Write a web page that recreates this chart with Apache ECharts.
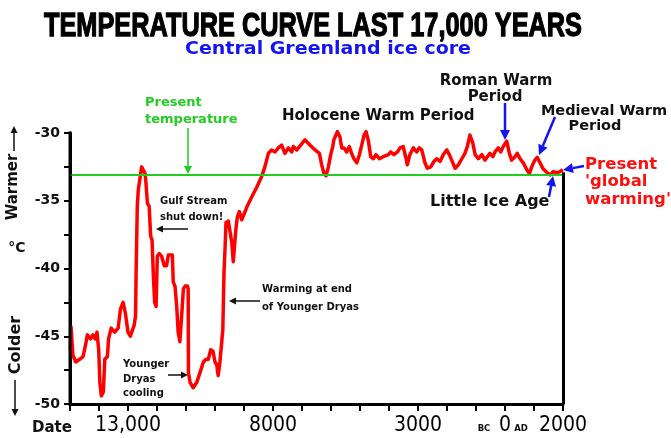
<!DOCTYPE html>
<html><head><meta charset="utf-8">
<script src="https://cdn.jsdelivr.net/npm/echarts@6/dist/echarts.min.js"></script>
<style>html,body{margin:0;padding:0;background:#fff}#c{width:671px;height:438px}</style>
</head><body><div id="c"></div>
<script>
// Year (BC negative, AD positive)
const years = [-14990,-14965,-14900,-14800,-14670,-14550,-14470,-14400,-14290,-14210,-14130,-14070,-14010,-13970,-13920,-13850,-13800,-13710,-13670,-13580,-13460,-13340,-13260,-13170,-13090,-13000,-12920,-12790,-12740,-12720,-12680,-12645,-12590,-12530,-12470,-12410,-12380,-12330,-12270,-12220,-12170,-12130,-12080,-12030,-11990,-11920,-11840,-11780,-11750,-11670,-11610,-11550,-11470,-11440,-11380,-11320,-11270,-11210,-11150,-11090,-11030,-10950,-10925,-10915,-10860,-10750,-10630,-10520,-10400,-10310,-10230,-10150,-10070,-10000,-9940,-9890,-9830,-9730,-9690,-9655,-9620,-9540,-9480,-9420,-9370,-9310,-9280,-9230,-9160,-9080,-9000,-8910,-8730,-8560,-8390,-8280,-8160,-8050,-7930,-7820,-7700,-7590,-7470,-7355,-7300,-7180,-7010,-6900,-6720,-6550,-6400,-6320,-6240,-6170,-6090,-6010,-5940,-5900,-5780,-5690,-5630,-5550,-5460,-5370,-5290,-5210,-5110,-5020,-4940,-4860,-4790,-4710,-4630,-4540,-4450,-4330,-4200,-4020,-3940,-3830,-3710,-3620,-3510,-3410,-3370,-3280,-3160,-3045,-2955,-2870,-2760,-2680,-2560,-2450,-2355,-2240,-2130,-2010,-1920,-1840,-1720,-1610,-1490,-1380,-1300,-1210,-1110,-1030,-920,-800,-690,-610,-520,-420,-345,-230,-150,-60,60,150,230,345,420,520,630,750,840,920,1030,1110,1210,1300,1410,1550,1670,1780,1900,1990];
// Temperature (°C)
const temps = [-46.0,-44.3,-46.4,-46.9,-46.7,-46.5,-45.7,-44.9,-45.2,-44.9,-45.2,-44.7,-46.0,-48.4,-49.4,-49.1,-46.7,-46.5,-45.2,-44.4,-44.7,-44.4,-43.0,-42.5,-43.3,-44.7,-45.0,-44.2,-43.5,-40.3,-35.4,-34.2,-34.2,-32.5,-32.4,-33.0,-33.7,-35.2,-35.4,-37.6,-37.9,-40.3,-42.5,-42.8,-39.1,-38.9,-39.1,-39.0,-39.8,-39.8,-39.0,-38.9,-39.0,-41.0,-41.3,-42.8,-44.7,-45.4,-43.5,-41.5,-41.3,-41.3,-41.5,-47.7,-48.4,-48.8,-48.4,-47.7,-46.9,-46.7,-46.7,-46.0,-46.1,-46.9,-47.1,-47.9,-46.9,-44.5,-40.3,-38.6,-36.6,-36.5,-36.6,-38.1,-39.5,-39.5,-37.1,-36.2,-35.8,-36.4,-36.0,-35.5,-34.7,-34.0,-33.2,-32.5,-31.5,-31.25,-31.4,-31.1,-30.9,-31.5,-31.1,-31.4,-31.0,-31.25,-30.8,-30.5,-30.9,-31.25,-31.5,-32.35,-33.0,-33.15,-32.5,-31.6,-31.0,-30.5,-29.9,-30.3,-31.1,-31.1,-31.4,-31.0,-31.5,-31.9,-32.2,-31.6,-30.9,-30.15,-29.9,-30.6,-31.75,-31.9,-31.6,-31.9,-31.75,-31.6,-31.4,-31.6,-31.4,-31.1,-31.0,-31.9,-32.35,-31.6,-31.1,-31.4,-31.1,-31.25,-32.2,-32.6,-32.5,-32.1,-31.9,-32.1,-31.6,-31.25,-31.6,-32.0,-32.6,-32.35,-31.9,-31.5,-31.0,-30.15,-30.75,-31.6,-31.9,-31.6,-32.0,-31.75,-31.5,-31.75,-31.4,-31.1,-31.4,-31.0,-30.6,-31.5,-32.0,-31.75,-31.5,-31.9,-32.2,-32.7,-33.0,-32.5,-32.0,-31.8,-32.2,-32.6,-32.85,-33.1,-32.85,-32.95,-32.85,-32.7];
const presentTemp = -33.1;
const xLabelValues = [-13000, -8000, -3000, 0, 2000];
const xLabelTexts = ['13,000', '8000', '3000', '0', '2000'];
const yLabelValues = [-30, -35, -40, -45, -50];

const chart = echarts.init(document.getElementById('c'), null, {renderer: 'canvas'});
const meas = document.createElement('canvas').getContext('2d');
function fitScale(text, font, target) { meas.font = font; return target / meas.measureText(text).width; }

const BOLD = '"DejaVu Sans", "Verdana", sans-serif';
function txt(x, y, text, size, color, align, extra) {
  const font = 'bold ' + size + 'px ' + BOLD;
  return Object.assign({ type: 'text', x: x, y: y, silent: true,
    style: { text: text, font: font, fill: color, textAlign: align || 'left', align: align || 'left',
             textVerticalAlign: 'middle', verticalAlign: 'middle' } }, extra || {});
}
function arrow(x1, y1, x2, y2, color, w, head) {
  const a = Math.atan2(y2 - y1, x2 - x1);
  const hl = head, hw = head * 0.5;
  const bx = x2 - hl * Math.cos(a), by = y2 - hl * Math.sin(a);
  const px = -Math.sin(a) * hw, py = Math.cos(a) * hw;
  return [
    { type: 'line', silent: true, shape: { x1: x1, y1: y1, x2: bx, y2: by }, style: { stroke: color, lineWidth: w } },
    { type: 'polygon', silent: true, shape: { points: [[x2, y2], [bx + px, by + py], [bx - px, by - py]] }, style: { fill: color } }
  ];
}

const titleText = 'TEMPERATURE CURVE LAST 17,000 YEARS';
const titleFont = 'bold 34px "Liberation Sans", Arial, sans-serif';
const subText = 'Central Greenland ice core';
const subFont = 'bold 17px ' + BOLD;
const BLUE = '#1414f0', GREEN = '#22cc22', RED = '#ff1010', BLK = '#111';

const graphics = [
  { type: 'line', silent: true, z: 10, shape: { x1: 70, y1: 131.5, x2: 70, y2: 405.5 }, style: { stroke: '#000', lineWidth: 3 } },
  { type: 'text', x: 313, y: 27, scaleX: fitScale(titleText, titleFont, 538), silent: true,
    style: { text: titleText, font: titleFont, fill: '#000', stroke: '#000', lineWidth: 1.3, textAlign: 'center', align: 'center', textVerticalAlign: 'middle', verticalAlign: 'middle' } },
  { type: 'text', x: 328, y: 50, scaleX: fitScale(subText, subFont, 286), silent: true,
    style: { text: subText, font: subFont, fill: BLUE, textAlign: 'center', align: 'center', textVerticalAlign: 'middle', verticalAlign: 'middle' } },
  txt(145, 103, 'Present', 13, GREEN),
  txt(145, 120, 'temperature', 13, GREEN),
  txt(282, 116, 'Holocene Warm Period', 15, BLK),
  txt(496, 81, 'Roman Warm', 15, BLK, 'center'),
  txt(495, 97, 'Period', 15, BLK, 'center'),
  txt(604, 111, 'Medieval Warm', 14.5, BLK, 'center'),
  txt(595, 126, 'Period', 14.5, BLK, 'center'),
  txt(585, 165, 'Present', 16.5, RED),
  txt(585, 182, "'global", 16.5, RED),
  txt(585, 200, "warming'", 16.5, RED),
  txt(430, 202, 'Little Ice Age', 16, BLK),
  txt(160, 201, 'Gulf Stream', 10, BLK),
  txt(160, 217, 'shut down!', 10, BLK),
  txt(262, 289, 'Warming at end', 10, BLK),
  txt(262, 307, 'of Younger Dryas', 10, BLK),
  txt(123, 364, 'Younger', 10, BLK),
  txt(123, 379, 'Dryas', 10, BLK),
  txt(123, 393, 'cooling', 10, BLK),
  txt(13, 187, 'Warmer', 15, BLK, 'center', { rotation: Math.PI / 2 }),
  txt(17, 248, '°C', 14, BLK, 'center'),
  txt(16, 345, 'Colder', 16, BLK, 'center', { rotation: Math.PI / 2 }),
  txt(32, 428, 'Date', 15, BLK),
  txt(484, 429, 'BC', 8.5, BLK, 'center'),
  txt(521, 429, 'AD', 8.5, BLK, 'center')
].concat(
  arrow(188, 128, 188, 174, GREEN, 1.5, 8),
  arrow(505, 103, 505, 140, BLUE, 2.5, 10),
  arrow(555, 117, 539, 155, BLUE, 2.5, 10),
  arrow(584, 166, 563, 170, BLUE, 2.5, 10),
  arrow(549, 197, 553, 176, BLUE, 2.5, 10),
  arrow(188, 229, 156, 229, BLK, 1.5, 7),
  arrow(260, 301, 229, 301, BLK, 1.5, 7),
  arrow(168, 375, 188, 375, BLK, 1.5, 7),
  arrow(14, 151, 14, 126, BLK, 1.5, 7),
  arrow(15, 380, 15, 416, BLK, 1.5, 7)
);

chart.setOption({
  animation: false,
  backgroundColor: '#fff',
  grid: { left: 70, right: 108, top: 133, bottom: 34, containLabel: false },
  xAxis: {
    type: 'value', min: -15000, max: 2000, interval: 1000,
    axisLine: { show: true, onZero: false, lineStyle: { color: '#000', width: 3 } },
    axisTick: { show: true, length: 7, lineStyle: { color: '#000', width: 2 } },
    splitLine: { show: false },
    axisLabel: {
      margin: 11, color: '#000', fontSize: 21, fontFamily: '"Liberation Sans Narrow", "DejaVu Sans Condensed", "Liberation Sans", sans-serif',
      showMinLabel: true, showMaxLabel: true,
      formatter: function (v) { const i = xLabelValues.indexOf(v); return i >= 0 ? xLabelTexts[i] : ''; }
    }
  },
  yAxis: {
    type: 'value', min: -50, max: -30, interval: 2.5, position: 'left',
    axisLine: { show: true, onZero: false, lineStyle: { color: '#000', width: 3 } },
    axisTick: { show: true, length: 6, lineStyle: { color: '#000', width: 2 } },
    splitLine: { show: false },
    axisLabel: {
      margin: 10, color: '#111', fontSize: 14, fontWeight: 'bold', fontFamily: BOLD,
      formatter: function (v) { return yLabelValues.indexOf(v) >= 0 ? String(v) : ''; }
    }
  },
  series: [{
    type: 'line', showSymbol: false, symbol: 'none', clip: false,
    data: years.map(function (y, i) { return [y, temps[i]]; }),
    lineStyle: { color: '#ff0000', width: 3.5, join: 'round' },
    z: 3,
    markLine: {
      silent: true, symbol: ['none', 'none'], animation: false,
      label: { show: false },
      data: [
        { yAxis: presentTemp, lineStyle: { color: GREEN, width: 2, type: 'solid' } },
        [ { coord: [2000, -50], lineStyle: { color: '#000', width: 3, type: 'solid' } }, { coord: [2000, -32.9] } ]
      ]
    }
  }],
  graphic: graphics
});
</script>
</body></html>
